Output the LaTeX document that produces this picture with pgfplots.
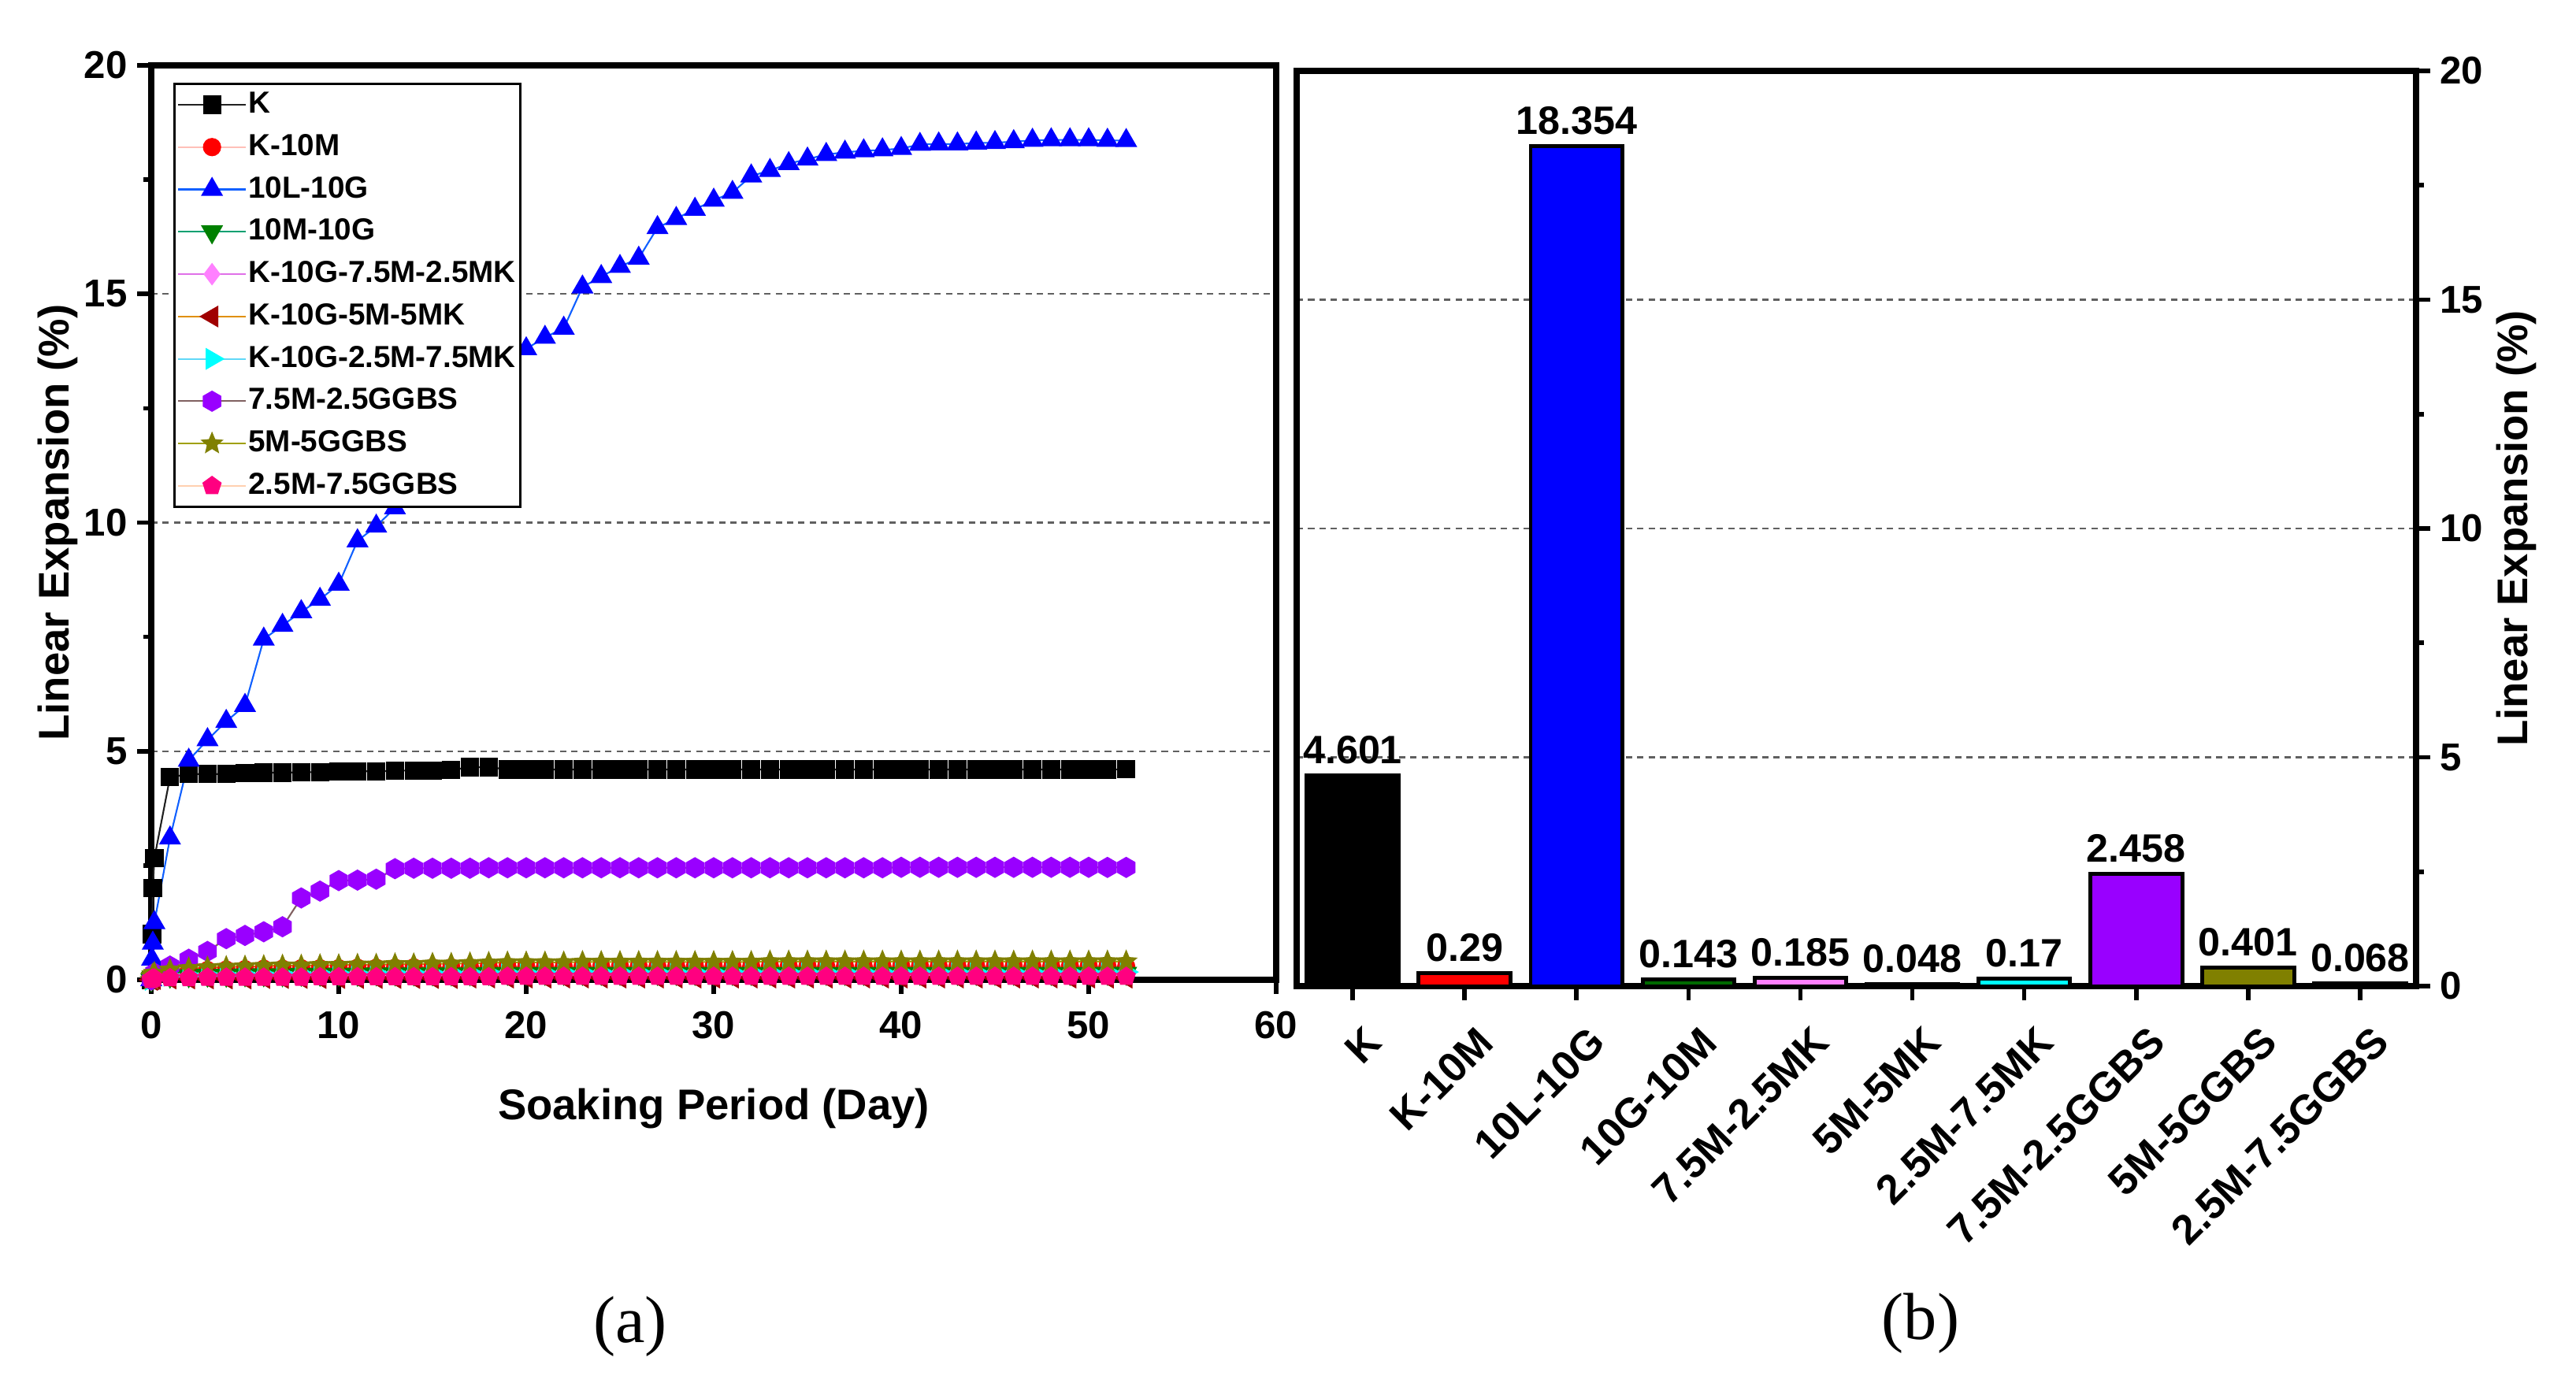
\documentclass[border=0pt]{standalone}
\usepackage{fontspec}
\setmainfont{Liberation Sans}
\newfontfamily\seriffont{Liberation Serif}
\usepackage{pgfplots}
\pgfplotsset{compat=1.18}
\usepackage{pgfplotstable}
\usetikzlibrary{plotmarks}

\pgfdeclareplotmark{hexagon*}{%
 \pgfpathmoveto{\pgfpointpolar{90}{\pgfplotmarksize}}%
 \pgfpathlineto{\pgfpointpolar{150}{\pgfplotmarksize}}%
 \pgfpathlineto{\pgfpointpolar{210}{\pgfplotmarksize}}%
 \pgfpathlineto{\pgfpointpolar{270}{\pgfplotmarksize}}%
 \pgfpathlineto{\pgfpointpolar{330}{\pgfplotmarksize}}%
 \pgfpathlineto{\pgfpointpolar{30}{\pgfplotmarksize}}%
 \pgfpathclose\pgfusepathqfillstroke}
\pgfdeclareplotmark{fstar}{%
 \pgfpathmoveto{\pgfpointpolar{90}{\pgfplotmarksize}}%
 \pgfpathlineto{\pgfpointpolar{126}{0.45\pgfplotmarksize}}%
 \pgfpathlineto{\pgfpointpolar{162}{\pgfplotmarksize}}%
 \pgfpathlineto{\pgfpointpolar{198}{0.45\pgfplotmarksize}}%
 \pgfpathlineto{\pgfpointpolar{234}{\pgfplotmarksize}}%
 \pgfpathlineto{\pgfpointpolar{270}{0.45\pgfplotmarksize}}%
 \pgfpathlineto{\pgfpointpolar{306}{\pgfplotmarksize}}%
 \pgfpathlineto{\pgfpointpolar{342}{0.45\pgfplotmarksize}}%
 \pgfpathlineto{\pgfpointpolar{18}{\pgfplotmarksize}}%
 \pgfpathlineto{\pgfpointpolar{54}{0.45\pgfplotmarksize}}%
 \pgfpathclose\pgfusepathqfillstroke}

\definecolor{mK}{HTML}{000000}\definecolor{lK}{HTML}{202020}
\definecolor{mR}{HTML}{FF0000}\definecolor{lR}{HTML}{FFC0B8}
\definecolor{mB}{HTML}{0000FF}\definecolor{lB}{HTML}{1060FF}
\definecolor{mG}{HTML}{008000}\definecolor{lG}{HTML}{00A070}
\definecolor{mP}{HTML}{FF80FF}\definecolor{lP}{HTML}{E070E8}
\definecolor{mBr}{HTML}{A00000}\definecolor{lBr}{HTML}{E09000}
\definecolor{mC}{HTML}{00FFFF}\definecolor{lC}{HTML}{60D8F8}
\definecolor{mV}{HTML}{9900FF}\definecolor{lV}{HTML}{806060}
\definecolor{mO}{HTML}{808000}\definecolor{lO}{HTML}{A0A000}
\definecolor{mM}{HTML}{FF0080}\definecolor{lM}{HTML}{FFD0B0}
\definecolor{bG}{HTML}{006A00}
\definecolor{bBr}{HTML}{700000}
\definecolor{gridc}{HTML}{606060}

\pgfplotstableread{
day    K     K10M  L10G   M10G  MKa   MKb   MKc   Ga    Gb    Gc
0      0     0     0      0     0     0     0     0     0     0
0.042  1.00  0.05  0.45   0.03  0.04  0.01  0.03  0.05  0.08  0.02
0.083  2.00  0.08  0.80   0.05  0.06  0.02  0.05  0.10  0.12  0.03
0.167  2.66  0.10  1.25   0.06  0.08  0.02  0.06  0.15  0.15  0.03
1      4.43  0.15  3.10   0.08  0.10  0.03  0.09  0.30  0.22  0.04
2      4.50  0.19  4.80   0.09  0.11  0.03  0.10  0.45  0.25  0.04
3      4.50  0.21  5.25   0.10  0.12  0.03  0.11  0.62  0.27  0.05
4      4.50  0.22  5.65   0.10  0.13  0.03  0.11  0.90  0.28  0.05
5      4.52  0.23  6.00   0.11  0.13  0.03  0.12  0.97  0.29  0.05
6      4.53  0.24  7.45   0.11  0.14  0.04  0.12  1.05  0.30  0.05
7      4.53  0.24  7.75   0.11  0.14  0.04  0.13  1.16  0.31  0.05
8      4.54  0.25  8.05   0.12  0.15  0.04  0.13  1.79  0.31  0.05
9      4.54  0.25  8.32   0.12  0.15  0.04  0.14  1.94  0.32  0.06
10     4.55  0.25  8.65   0.12  0.15  0.04  0.14  2.17  0.32  0.06
11     4.56  0.26  9.60   0.12  0.16  0.04  0.14  2.18  0.33  0.06
12     4.56  0.26  9.92   0.13  0.16  0.04  0.15  2.20  0.33  0.06
13     4.57  0.26  10.32  0.13  0.16  0.04  0.15  2.43  0.34  0.06
14     4.58  0.27  10.55  0.13  0.17  0.04  0.15  2.44  0.34  0.06
15     4.58  0.27  11.00  0.13  0.17  0.04  0.15  2.44  0.35  0.06
16     4.59  0.27  11.60  0.13  0.17  0.04  0.16  2.44  0.35  0.06
17     4.65  0.27  12.20  0.13  0.17  0.05  0.16  2.44  0.36  0.06
18     4.65  0.28  12.80  0.14  0.17  0.05  0.16  2.45  0.37  0.06
19     4.60  0.28  13.40  0.14  0.18  0.05  0.16  2.45  0.38  0.07
20     4.60  0.28  13.80  0.14  0.18  0.05  0.16  2.45  0.38  0.07
21     4.60  0.28  14.05  0.14  0.18  0.05  0.16  2.45  0.38  0.07
22     4.60  0.28  14.25  0.14  0.18  0.05  0.17  2.45  0.38  0.07
23     4.60  0.28  15.15  0.14  0.18  0.05  0.17  2.45  0.39  0.07
24     4.60  0.28  15.38  0.14  0.18  0.05  0.17  2.45  0.39  0.07
25     4.60  0.28  15.60  0.14  0.18  0.05  0.17  2.45  0.39  0.07
26     4.60  0.28  15.78  0.14  0.18  0.05  0.17  2.45  0.39  0.07
27     4.60  0.28  16.45  0.14  0.18  0.05  0.17  2.45  0.39  0.07
28     4.60  0.29  16.65  0.14  0.18  0.05  0.17  2.45  0.39  0.07
29     4.60  0.29  16.85  0.14  0.18  0.05  0.17  2.45  0.39  0.07
30     4.60  0.29  17.05  0.14  0.18  0.05  0.17  2.45  0.39  0.07
31     4.60  0.29  17.22  0.14  0.18  0.05  0.17  2.45  0.39  0.07
32     4.60  0.29  17.58  0.14  0.18  0.05  0.17  2.45  0.39  0.07
33     4.60  0.29  17.70  0.14  0.18  0.05  0.17  2.45  0.40  0.07
34     4.60  0.29  17.85  0.14  0.18  0.05  0.17  2.45  0.40  0.07
35     4.60  0.29  17.95  0.14  0.18  0.05  0.17  2.45  0.40  0.07
36     4.60  0.29  18.05  0.14  0.18  0.05  0.17  2.45  0.40  0.07
37     4.60  0.29  18.10  0.14  0.18  0.05  0.17  2.45  0.40  0.07
38     4.60  0.29  18.13  0.14  0.18  0.05  0.17  2.45  0.40  0.07
39     4.60  0.29  18.15  0.14  0.18  0.05  0.17  2.45  0.40  0.07
40     4.60  0.29  18.18  0.14  0.18  0.05  0.17  2.46  0.40  0.07
41     4.60  0.29  18.27  0.14  0.18  0.05  0.17  2.46  0.40  0.07
42     4.60  0.29  18.28  0.14  0.18  0.05  0.17  2.46  0.40  0.07
43     4.60  0.29  18.28  0.14  0.18  0.05  0.17  2.46  0.40  0.07
44     4.60  0.29  18.30  0.14  0.18  0.05  0.17  2.46  0.40  0.07
45     4.60  0.29  18.31  0.14  0.18  0.05  0.17  2.46  0.40  0.07
46     4.60  0.29  18.33  0.14  0.18  0.05  0.17  2.46  0.40  0.07
47     4.60  0.29  18.36  0.14  0.18  0.05  0.17  2.46  0.40  0.07
48     4.60  0.29  18.37  0.14  0.18  0.05  0.17  2.46  0.40  0.07
49     4.60  0.29  18.37  0.14  0.18  0.05  0.17  2.46  0.40  0.07
50     4.60  0.29  18.37  0.14  0.18  0.05  0.17  2.46  0.40  0.07
51     4.60  0.29  18.36  0.143 0.185 0.048 0.17  2.458 0.401 0.068
52     4.601 0.29  18.354 0.143 0.185 0.048 0.17  2.458 0.401 0.068
}\expdata

\newcommand{\tickfont}{\fontsize{14}{16}\selectfont\bfseries}
\newcommand{\labfont}{\fontsize{15.5}{18}\selectfont\bfseries}
\newcommand{\barfont}{\fontsize{14.3}{16}\selectfont\bfseries}

\pgfplotsset{
  myaxis/.style={
    scale only axis,
    ymin=0, ymax=20,
    ytick={0,5,10,15,20},
    minor y tick num=1,
    tick align=outside,
    major tick length=1.8mm,
    minor tick length=1.0mm,
    every tick/.style={black, line width=1.6pt},
    axis line style={line width=2.2pt},
    ymajorgrids,
    major grid style={gridc, line width=0.7pt, dash pattern=on 2.3pt off 1.8pt},
    /pgf/number format/assume math mode=true,
    ticklabel style={font=\tickfont},
  },
  mybar/.style={ybar, bar width=0.82, draw=black, line width=1.4pt, fill=#1},
  barlab/.style={nodes near coords={#1}, every node near coord/.style={anchor=south, inner sep=0pt, yshift=1.2mm, font=\barfont, black}},
}

\begin{document}
\begin{tikzpicture}
\path[use as bounding box] (0,0) rectangle (327mm,176.1mm);

% ---------- (a) ----------
\begin{axis}[myaxis,
  at={(19.2mm,51.7mm)}, anchor=south west,
  width=142.8mm, height=116.1mm,
  xmin=0, xmax=60,
  xtick={0,10,...,60},
  tick pos=left,
  xticklabel style={yshift=-1mm},
  xlabel={Soaking Period (Day)},
  ylabel={Linear Expansion (\%)},
  every axis x label/.style={at={(axis description cs:0.5,0)}, yshift=-16.4mm, anchor=center, font=\labfont},
  every axis y label/.style={at={(axis description cs:0,0.5)}, xshift=-11.9mm, anchor=center, rotate=90, font=\labfont},
  legend style={
    at={(rel axis cs:0.0196,0.981)}, anchor=north west,
    draw=black, line width=0.9pt, fill=white,
    font=\fontsize{11}{13}\selectfont\bfseries,
    inner xsep=1pt, inner ysep=1.5pt,
    row sep=3.3pt,
    nodes={inner sep=0.6pt, text height=8.4pt, text depth=2.4pt},
    cells={anchor=west},
  },
  legend image code/.code={\draw[mark repeat=2,mark phase=2,#1] plot coordinates {(0cm,0cm) (0.43cm,0cm) (0.86cm,0cm)};},
]
\addplot[lK, line width=0.6pt, mark=square*, mark size=3pt, mark options={solid, fill=mK, draw=mK}] table[x=day,y=K]{\expdata};
\addlegendentry{K}
\addplot[lR, line width=0.6pt, mark=*, mark size=3pt, mark options={solid, fill=mR, draw=mR}] table[x=day,y=K10M]{\expdata};
\addlegendentry{K-10M}
\addplot[lB, line width=0.6pt, mark=triangle*, mark size=4pt, mark options={solid, fill=mB, draw=mB}] table[x=day,y=L10G]{\expdata};
\addlegendentry{10L-10G}
\addplot[lG, line width=0.6pt, mark=triangle*, mark size=4pt, mark options={solid, fill=mG, draw=mG, rotate=180}] table[x=day,y=M10G]{\expdata};
\addlegendentry{10M-10G}
\addplot[lP, line width=0.6pt, mark=diamond*, mark size=3.6pt, mark options={solid, fill=mP, draw=mP}] table[x=day,y=MKa]{\expdata};
\addlegendentry{K-10G-7.5M-2.5MK}
\addplot[lBr, line width=0.6pt, mark=triangle*, mark size=4pt, mark options={solid, fill=mBr, draw=mBr, rotate=90}] table[x=day,y=MKb]{\expdata};
\addlegendentry{K-10G-5M-5MK}
\addplot[lC, line width=0.6pt, mark=triangle*, mark size=4pt, mark options={solid, fill=mC, draw=mC, rotate=-90}] table[x=day,y=MKc]{\expdata};
\addlegendentry{K-10G-2.5M-7.5MK}
\addplot[lV, line width=0.6pt, mark=hexagon*, mark size=3.5pt, mark options={solid, fill=mV, draw=mV}] table[x=day,y=Ga]{\expdata};
\addlegendentry{7.5M-2.5GGBS}
\addplot[lO, line width=0.6pt, mark=fstar, mark size=3.6pt, mark options={solid, fill=mO, draw=mO}] table[x=day,y=Gb]{\expdata};
\addlegendentry{5M-5GGBS}
\addplot[lM, line width=0.6pt, mark=pentagon*, mark size=3.3pt, mark options={solid, fill=mM, draw=mM}] table[x=day,y=Gc]{\expdata};
\addlegendentry{2.5M-7.5GGBS}
\end{axis}

% ---------- (b) ----------
\begin{axis}[myaxis,
  at={(164.6mm,50.9mm)}, anchor=south west,
  width=142.1mm, height=116.2mm,
  xmin=-0.5, xmax=9.5,
  xtick={0,...,9},
  xticklabels={K,K-10M,10L-10G,10G-10M,7.5M-2.5MK,5M-5MK,2.5M-7.5MK,7.5M-2.5GGBS,5M-5GGBS,2.5M-7.5GGBS},
  xtick pos=left,
  ytick pos=right,
  yticklabel pos=right,
  xticklabel style={rotate=45, anchor=east, xshift=0mm, yshift=-5.0mm, font=\fontsize{15}{17}\selectfont\bfseries},
  ylabel={Linear Expansion (\%)},
  every axis y label/.style={at={(axis description cs:1,0.5)}, xshift=12.7mm, anchor=center, rotate=90, font=\labfont},
  clip=false,
]
\addplot[mybar=black, barlab={4.601}] coordinates {(0,4.601)};
\addplot[mybar=mR, barlab={0.29}] coordinates {(1,0.29)};
\addplot[mybar=mB, barlab={18.354}] coordinates {(2,18.354)};
\addplot[mybar=bG, barlab={0.143}] coordinates {(3,0.143)};
\addplot[mybar=mP, barlab={0.185}] coordinates {(4,0.185)};
\addplot[mybar=bBr, barlab={0.048}] coordinates {(5,0.048)};
\addplot[mybar=mC, barlab={0.17}] coordinates {(6,0.17)};
\addplot[mybar=mV, barlab={2.458}] coordinates {(7,2.458)};
\addplot[mybar=mO, barlab={0.401}] coordinates {(8,0.401)};
\addplot[mybar=mM, barlab={0.068}] coordinates {(9,0.068)};
\end{axis}

\node[font=\seriffont\fontsize{24}{28}\selectfont] at (80.0mm,7.7mm) {(a)};
\node[font=\seriffont\fontsize{24}{28}\selectfont] at (243.8mm,8.1mm) {(b)};
\end{tikzpicture}
\end{document}
